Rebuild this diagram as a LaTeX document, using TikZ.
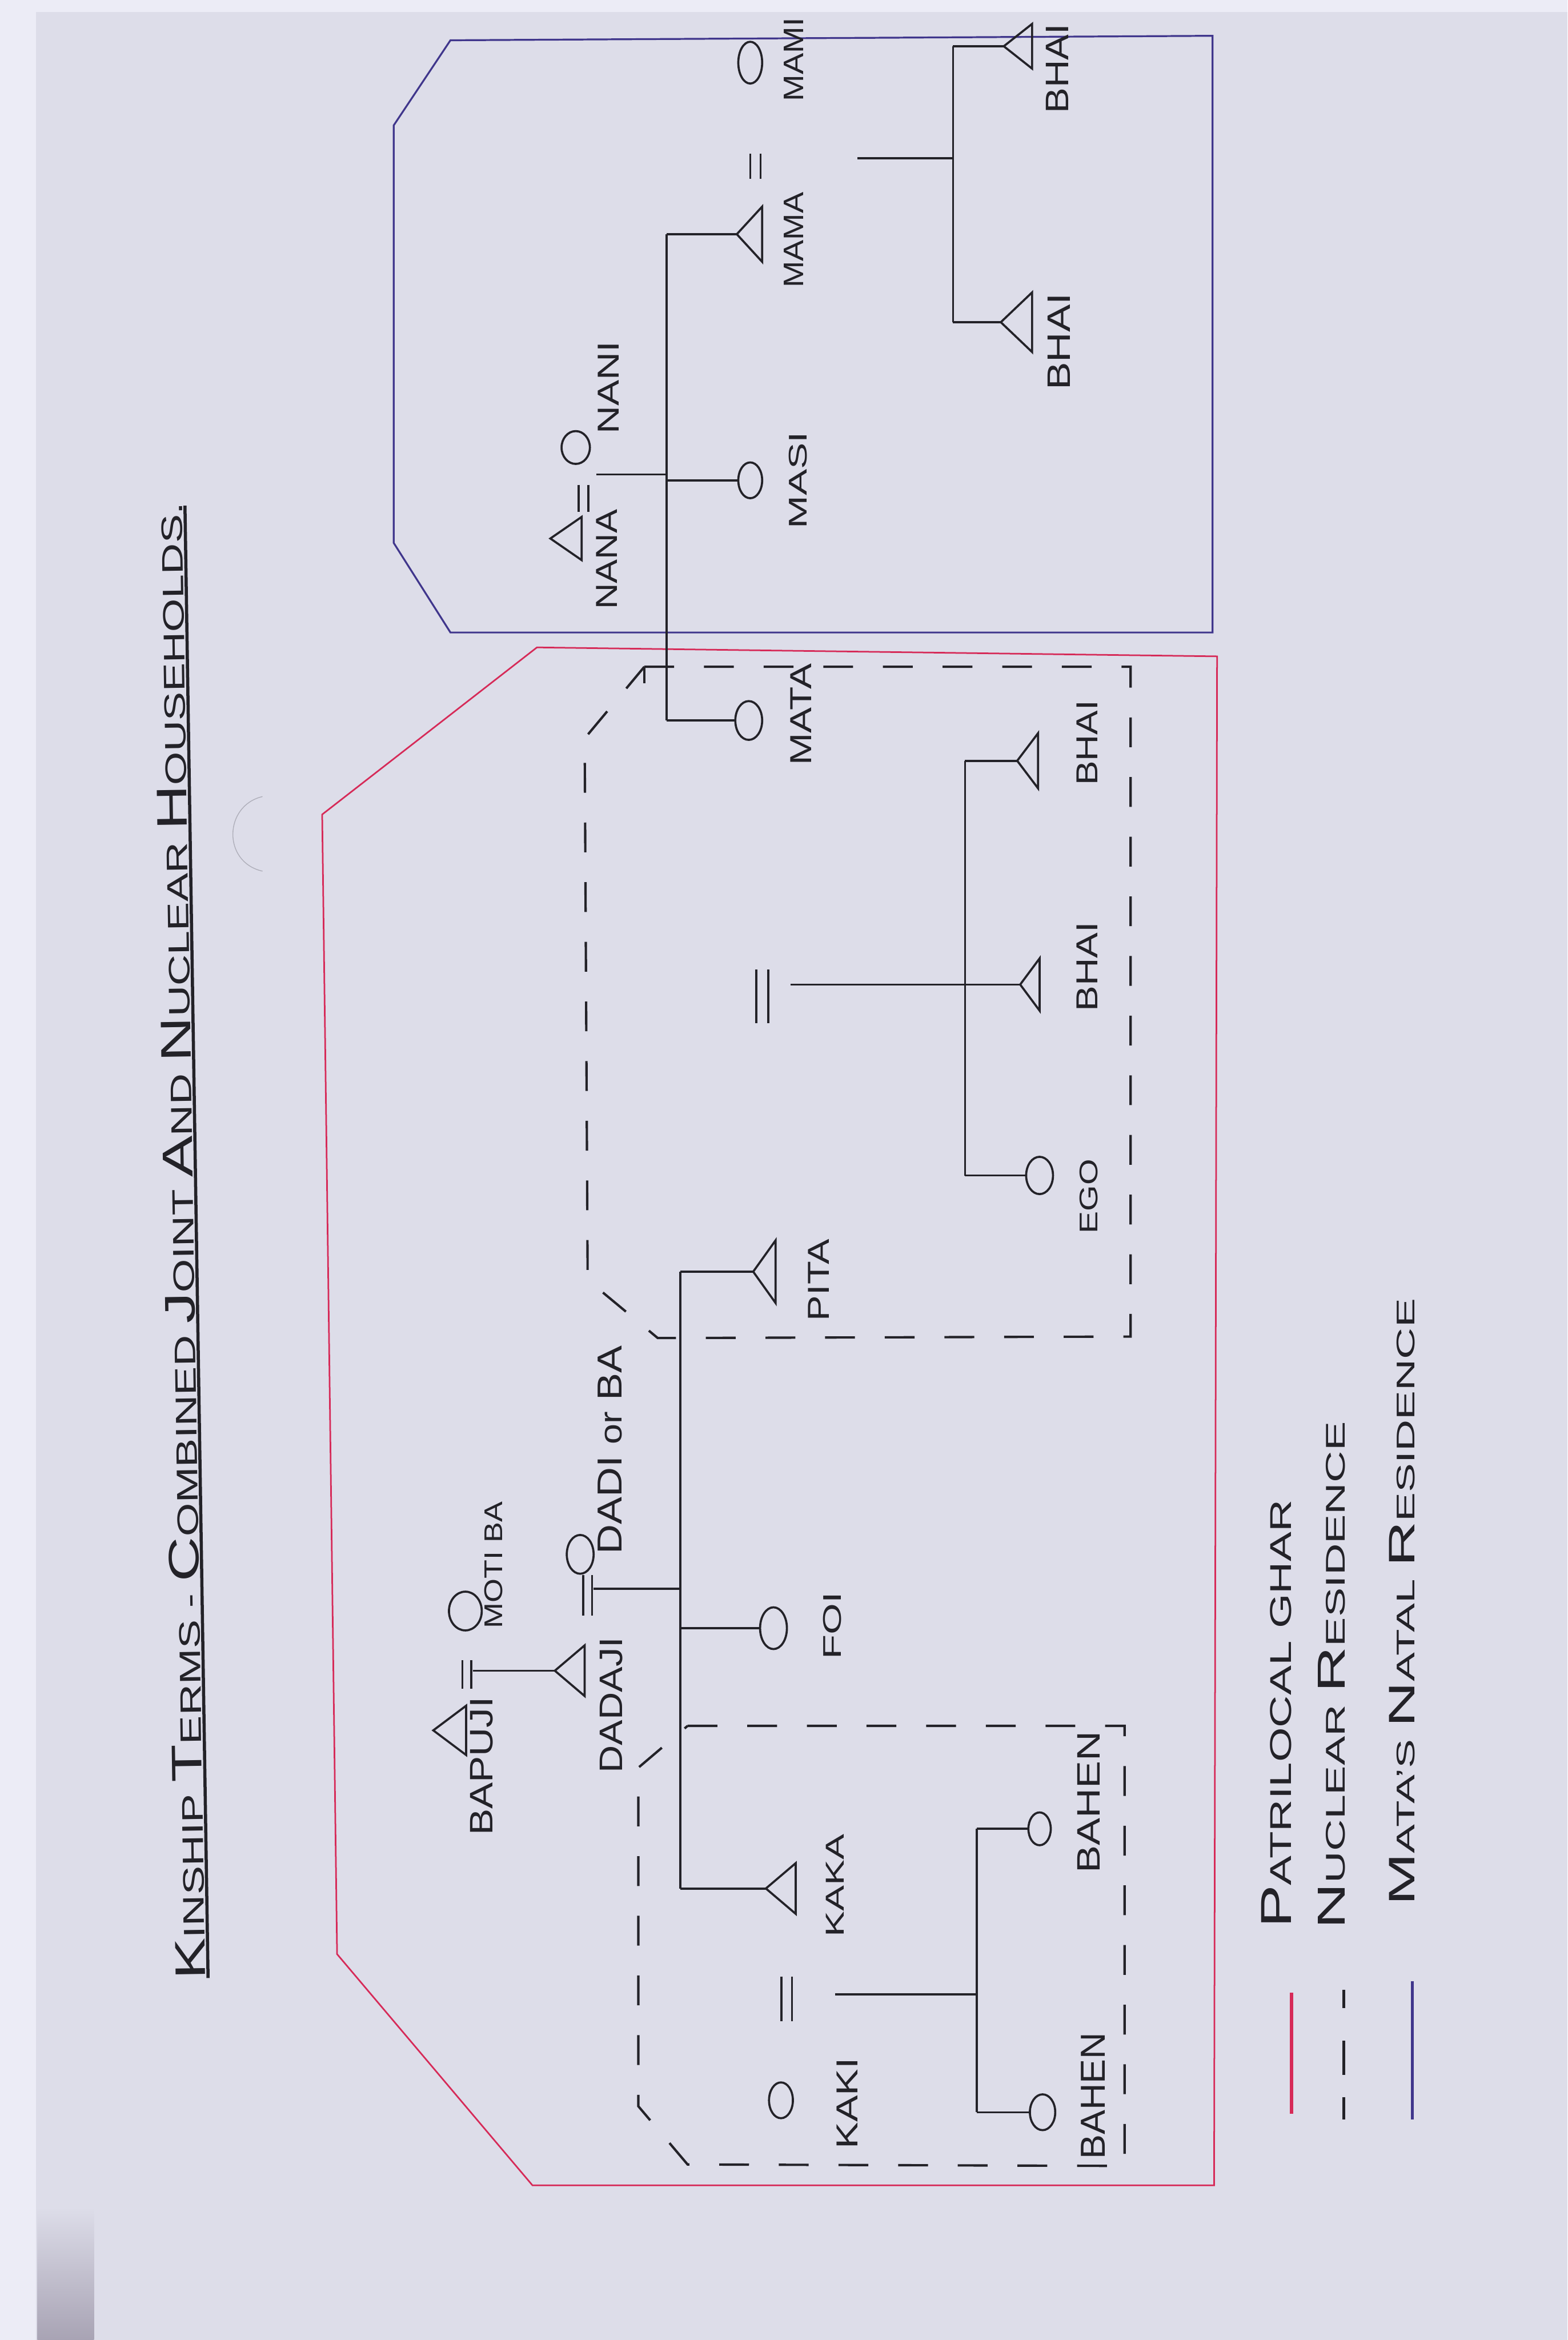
\documentclass[tikz,border=0pt]{standalone}
\usepackage{fontspec}
\setmainfont{Liberation Sans}
\usepackage{graphicx}
\usetikzlibrary{shapes.geometric,positioning}

\newlength\pxu
\setlength\pxu{0.02cm}
% hand lettering: length and cap height (in px of the scan), text
\newcommand\handtext[3]{\resizebox{#1\pxu}{#2\pxu}{#3}}
\newcommand\initcap[1]{{\fontsize{14.4}{15}\selectfont #1}}

\definecolor{page}{RGB}{221,221,233}
\definecolor{paper}{RGB}{236,236,246}
\definecolor{ink}{RGB}{35,34,40}
\definecolor{ghar}{RGB}{214,42,88}
\definecolor{natal}{RGB}{64,54,140}

\tikzset{
  kin/.style={draw=ink, line width=0.8pt},
  % apex to the left: width = base, height = apex to base
  male/.style={isosceles triangle, isosceles triangle stretches, shape border rotate=180,
    draw=ink, line width=0.8pt, inner sep=0pt, outer sep=0pt,
    minimum width=0.68cm, minimum height=0.38cm},
  female/.style={ellipse, draw=ink, line width=0.8pt, inner sep=0pt, outer sep=0pt,
    minimum width=0.36cm, minimum height=0.5cm},
  term/.style={rotate=90, inner sep=0pt, text=ink},
  gharline/.style={draw=ghar, line width=0.6pt},
  natalline/.style={draw=natal, line width=0.7pt},
  nuclear/.style={draw=ink, line width=0.9pt, dash pattern=on 0.4cm off 0.4cm},
}

\begin{document}
\begin{tikzpicture}[x=0.02cm, y=-0.02cm]
\useasboundingbox (0,0) rectangle (1051,1568.7);

	%% the scanned page
	\fill[page] (0,0) rectangle (1051,1568.7);
	\fill[paper] (0,0) rectangle (24,1568.7);
	\fill[paper] (24,0) rectangle (1051,8);
	\shade[top color=page, bottom color={rgb,255:red,168;green,163;blue,180}]
	  (25,1480) rectangle (63,1568.7);
	\draw[ink!25!page, line width=0.3pt] (176,534) .. controls (150,540) and (149,578) .. (176,584);

	%% title
	\node[rotate=90.9, inner sep=0pt, text=ink] (title) at (120,832)
	  {\handtext{990}{20}{\initcap{K}INSHIP \initcap{T}ERMS - \initcap{C}OMBINED \initcap{J}OINT
	   \initcap{A}ND \initcap{N}UCLEAR \initcap{H}OUSEHOLDS.}};
	\draw[ink, line width=1.2pt] (139.5,1326) -- (124,339);

	%% residences
	\draw[natalline] (302,27) -- (813,24) -- (813,424) -- (302,424)
	  -- (264,364) -- (264,84) -- cycle; % mata's natal home
	\draw[gharline] (360,434) -- (816,440) -- (814,1465) -- (357,1465)
	  -- (226,1310) -- (216,546) -- cycle; % patrilocal ghar
	\draw[nuclear] (432,447) -- (758,447) -- (758,896) -- (441,897)
	  -- (394,858) -- (392,495) -- cycle; % ego's nuclear home
	\draw[kin, line width=0.9pt] (432,447) -- (432,458);
	\draw[nuclear] (461,1157) -- (754,1157) -- (754,1452) -- (461,1451)
	  -- (428,1412) -- (428,1185) -- cycle; % kaka's nuclear home

	%% mother's side
	\node[male, minimum width=0.58cm, minimum height=0.42cm, anchor=apex] (nana) at (369,361) {};
	\node[female, minimum width=0.38cm, minimum height=0.44cm] (nani) at (386,300) {};
	\draw[kin] (388,325) -- (388,343) (394.5,325) -- (394.5,343); % nana = nani
	\coordinate (nanaM) at (400,318);
	\coordinate (nanaS) at (447,318);
	\draw[kin] (nanaM) -- (nanaS);

	\node[male, minimum width=0.74cm, minimum height=0.34cm, anchor=apex] (mama) at (494,157) {};
	\node[female, minimum width=0.32cm, minimum height=0.48cm] (masi) at (503,322) {};
	\node[female, minimum width=0.36cm, minimum height=0.52cm] (mata) at (502,483) {};
	\draw[kin] (mama.apex -| nanaS) -- (mata.west -| nanaS);
	\draw[kin] (mama.apex -| nanaS) -- (mama.apex);
	\draw[kin] (masi.west -| nanaS) -- (masi.west);
	\draw[kin] (mata.west -| nanaS) -- (mata.west);

	\node[female, minimum width=0.32cm, minimum height=0.56cm] (mami) at (503,42) {};
	\draw[kin] (503,103) -- (503,120) (510,103) -- (510,120); % mama = mami
	\coordinate (mamaM) at (575,106);
	\coordinate (mamaS) at (639,106);
	\draw[kin] (mamaM) -- (mamaS);
	\node[male, minimum width=0.6cm, minimum height=0.38cm, anchor=apex] (bhaiA) at (673,31) {};
	\node[male, minimum width=0.8cm, minimum height=0.42cm, anchor=apex] (bhaiB) at (671,216) {};
	\draw[kin] (bhaiA.apex -| mamaS) -- (bhaiB.apex -| mamaS);
	\draw[kin] (bhaiA.apex -| mamaS) -- (bhaiA.apex);
	\draw[kin] (bhaiB.apex -| mamaS) -- (bhaiB.apex);

	%% father's side
	\node[male, minimum width=0.66cm, minimum height=0.44cm, anchor=apex] (bapuji) at (290.5,1160) {};
	\node[female, minimum width=0.44cm, minimum height=0.52cm] (motiba) at (312,1080) {};
	\draw[kin] (310,1113) -- (310,1132) (316,1113) -- (316,1132); % bapuji = motiba
	\coordinate (bapujiM) at (317,1120);
	\node[male, minimum width=0.68cm, minimum height=0.4cm, anchor=apex] (dadaji) at (372,1120) {};
	\draw[kin] (bapujiM) -- (dadaji.apex);

	\node[female, minimum width=0.36cm, minimum height=0.52cm] (dadi) at (389,1042) {};
	\draw[kin] (391,1056) -- (391,1083) (397,1056) -- (397,1083); % dadaji = dadi
	\coordinate (dadajiM) at (398,1065);
	\coordinate (dadajiS) at (456,1065);
	\draw[kin] (dadajiM) -- (dadajiS);
	\node[male, minimum width=0.84cm, minimum height=0.3cm, anchor=apex] (pita) at (505,852.5) {};
	\node[female, minimum width=0.36cm, minimum height=0.56cm] (foi) at (518.6,1091.5) {};
	\node[male, minimum width=0.68cm, minimum height=0.4cm, anchor=apex] (kaka) at (513.5,1266) {};
	\draw[kin] (pita.apex -| dadajiS) -- (kaka.apex -| dadajiS);
	\draw[kin] (pita.apex -| dadajiS) -- (pita.apex);
	\draw[kin] (foi.west -| dadajiS) -- (foi.west);
	\draw[kin] (kaka.apex -| dadajiS) -- (kaka.apex);

	%% mata = pita
	\draw[kin] (507,650) -- (507,686) (515,650) -- (515,686);
	\coordinate (mataM) at (530,660);
	\coordinate (mataS) at (647,660);
	\node[male, minimum width=0.74cm, minimum height=0.28cm, anchor=apex] (bhaiC) at (682,510) {};
	\node[male, minimum width=0.7cm, minimum height=0.26cm, anchor=apex] (bhaiD) at (684,660) {};
	\node[female, minimum width=0.36cm, minimum height=0.5cm] (ego) at (697,788) {};
	\draw[kin] (mataM) -- (bhaiD.apex);
	\draw[kin] (bhaiC.apex -| mataS) -- (ego.west -| mataS);
	\draw[kin] (bhaiC.apex -| mataS) -- (bhaiC.apex);
	\draw[kin] (ego.west -| mataS) -- (ego.west);

	%% kaka = kaki
	\node[female, minimum width=0.32cm, minimum height=0.48cm] (kaki) at (523.6,1408) {};
	\draw[kin] (524,1325) -- (524,1355) (531,1325) -- (531,1355);
	\coordinate (kakaM) at (560,1337);
	\coordinate (kakaS) at (655,1337);
	\draw[kin] (kakaM) -- (kakaS);
	\node[female, minimum width=0.3cm, minimum height=0.44cm] (bahenA) at (697,1226) {};
	\node[female, minimum width=0.34cm, minimum height=0.48cm] (bahenB) at (699,1416) {};
	\draw[kin] (bahenA.west -| kakaS) -- (bahenB.west -| kakaS);
	\draw[kin] (bahenA.west -| kakaS) -- (bahenA.west);
	\draw[kin] (bahenB.west -| kakaS) -- (bahenB.west);

	%% kinship terms
	\node[term] (lNana) at (407,375) {\handtext{67}{14}{NANA}};
	\node[term] (lNani) at (408,260) {\handtext{62}{14}{NANI}};
	\node[term] (lMama) at (532,161) {\handtext{64}{13}{MAMA}};
	\node[term] (lMami) at (532,40) {\handtext{56}{13}{MAMI}};
	\node[term] (lMasi) at (535,322) {\handtext{65}{12}{MASI}};
	\node[term] (lBhaiA) at (709,46) {\handtext{60}{15}{BHAI}};
	\node[term] (lBhaiB) at (710,229) {\handtext{65}{15}{BHAI}};
	\node[term] (lMata) at (537,479) {\handtext{68}{14}{MATA}};
	\node[term] (lBhaiC) at (729,498) {\handtext{57}{14}{BHAI}};
	\node[term] (lBhaiD) at (729,648) {\handtext{60}{14}{BHAI}};
	\node[term] (lEgo) at (730,802) {\handtext{50}{12}{EGO}};
	\node[term] (lPita) at (549,858) {\handtext{55}{14}{PITA}};
	\node[term] (lBapuji) at (323,1184) {\handtext{93}{15}{BAPUJI}};
	\node[term] (lMotiba) at (331,1049) {\handtext{85}{12}{MOTI BA}};
	\node[term] (lDadaji) at (410,1143) {\handtext{91}{15}{DADAJI}};
	\node[term] (lDadi) at (409,972) {\handtext{140}{16}{DADI {\small or} BA}};
	\node[term] (lFoi) at (558,1090) {\handtext{45}{12}{FOI}};
	\node[term] (lKaka) at (560,1264) {\handtext{69}{12}{KAKA}};
	\node[term] (lKaki) at (568,1410) {\handtext{61}{14}{KAKI}};
	\node[term] (lBahenA) at (730,1208) {\handtext{95}{15}{BAHEN}};
	\node[term] (lBahenB) at (733,1405) {\handtext{85}{16}{BAHEN}};

	%% legend
	\node[term] (legGhar) at (856,1149) {\handtext{287}{20}{\initcap{P}ATRILOCAL GHAR}};
	\node[term] (legNuc) at (893,1123) {\handtext{340}{18}{\initcap{N}UCLEAR \initcap{R}ESIDENCE}};
	\node[term] (legNatal) at (940,1074) {\handtext{407}{17}{\initcap{M}ATA'S \initcap{N}ATAL \initcap{R}ESIDENCE}};
	\draw[gharline, line width=1.2pt] (866,1336) -- (866,1417);
	\draw[kin, line width=1.1pt] (901,1334) -- (901,1346) (901,1368) -- (901,1391) (901,1406) -- (901,1421);
	\draw[natalline, line width=1.2pt] (947,1328) -- (947,1421);
\end{tikzpicture}
\end{document}
